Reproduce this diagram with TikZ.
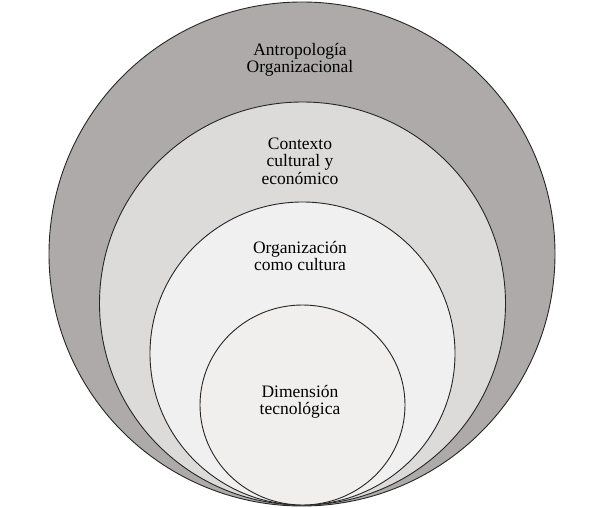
\documentclass[tikz,border=0pt]{standalone}
\usepackage{fontspec}
\setmainfont{Liberation Serif}
\definecolor{ringA}{RGB}{174,170,170}
\definecolor{ringB}{RGB}{221,218,218}
\definecolor{ringC}{RGB}{240,240,240}
\definecolor{ringD}{RGB}{241,238,238}
\tikzset{
  ring/.style={draw=black!85, line width=0.9pt},
  lbl/.style={align=center, font=\fontsize{17.5}{17.5}\selectfont, text=black, inner sep=0pt}
}
\begin{document}
\begin{tikzpicture}[x=1pt,y=-1pt]
\useasboundingbox (0,0) rectangle (600,508);
\path[ring, fill=ringA] (302,254) ellipse [x radius=253, y radius=252];
\path[ring, fill=ringB] (302.5,303.5) ellipse [x radius=203, y radius=201.5];
\path[ring, fill=ringC] (302.5,353.5) ellipse [x radius=152.5, y radius=151.5];
\path[ring, fill=ringD] (302.5,405) ellipse [x radius=102.5, y radius=100];
\node[lbl] (antro) at (300,60) {Antropología\\Organizacional};
\node[lbl] (ctx) at (300,161) {Contexto\\cultural y\\económico};
\node[lbl] (org) at (300,256) {Organización\\como cultura};
\node[lbl] (dim) at (300,402) {Dimensión\\tecnológica};
\end{tikzpicture}
\end{document}
